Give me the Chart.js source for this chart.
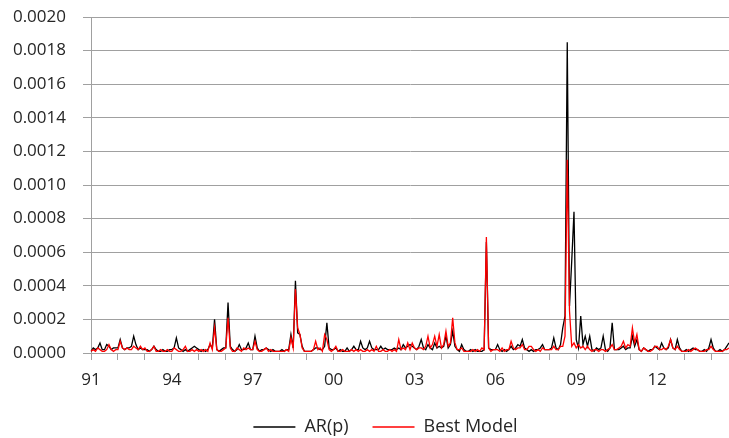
<!DOCTYPE html>
<html>
<head>
<meta charset="utf-8">
<script src="https://cdn.jsdelivr.net/npm/chart.js@4/dist/chart.umd.min.js"></script>
<style>
  html, body { margin: 0; padding: 0; background: #ffffff; }
  #wrap { width: 729px; height: 438px; }
</style>
</head>
<body>
<div id="wrap"><canvas id="chart" width="729" height="438"></canvas></div>
<script>
// Monthly series, January 1991 onwards (one row per year)
const startYear = 1991;
const yearTicks = ['91', '94', '97', '00', '03', '06', '09', '12'];

const arP = [
  0.00001,0.00003,0.00002,0.00003,0.00006,0.00002,0.00002,0.00005,0.00004,0.00002,0.00003,0.00003,
  0.00003,0.00008,0.00003,0.00002,0.00003,0.00003,0.00004,0.00010,0.00005,0.00002,0.00003,0.00002,
  0.00002,0.00002,0.00001,0.00002,0.00004,0.00002,0.00001,0.00001,0.00002,0.00001,0.00001,0.00002,
  0.00002,0.00003,0.00009,0.00003,0.00002,0.00001,0.00002,0.00001,0.00002,0.00003,0.00004,0.00003,
  0.00002,0.00001,0.00002,0.00001,0.00002,0.00005,0.00003,0.00020,0.00002,0.00001,0.00002,0.00003,
  0.00003,0.00030,0.00004,0.00002,0.00001,0.00002,0.00005,0.00002,0.00002,0.00003,0.00006,0.00002,
  0.00002,0.00010,0.00003,0.00001,0.00002,0.00002,0.00003,0.00002,0.00001,0.00002,0.00001,0.00001,
  0.00001,0.00002,0.00001,0.00002,0.00002,0.00011,0.00003,0.00043,0.00012,0.00011,0.00004,0.00001,
  0.00001,0.00001,0.00001,0.00002,0.00003,0.00003,0.00002,0.00002,0.00004,0.00018,0.00003,0.00002,
  0.00002,0.00003,0.00001,0.00002,0.00001,0.00001,0.00003,0.00001,0.00002,0.00004,0.00002,0.00002,
  0.00007,0.00003,0.00002,0.00003,0.00007,0.00003,0.00002,0.00002,0.00002,0.00004,0.00002,0.00003,
  0.00002,0.00002,0.00002,0.00003,0.00002,0.00003,0.00002,0.00005,0.00003,0.00004,0.00005,0.00004,
  0.00003,0.00002,0.00004,0.00008,0.00003,0.00002,0.00005,0.00003,0.00002,0.00006,0.00003,0.00004,
  0.00003,0.00004,0.00010,0.00003,0.00005,0.00013,0.00004,0.00002,0.00001,0.00005,0.00002,0.00001,
  0.00001,0.00002,0.00001,0.00002,0.00001,0.00001,0.00001,0.00002,0.00066,0.00003,0.00002,0.00002,
  0.00002,0.00005,0.00002,0.00001,0.00002,0.00001,0.00002,0.00004,0.00002,0.00003,0.00005,0.00004,
  0.00008,0.00003,0.00002,0.00001,0.00002,0.00001,0.00002,0.00002,0.00003,0.00005,0.00002,0.00002,
  0.00002,0.00003,0.00009,0.00003,0.00002,0.00005,0.00015,0.00022,0.00185,0.00028,0.00055,0.00084,
  0.00008,0.00003,0.00022,0.00005,0.00010,0.00004,0.00010,0.00002,0.00001,0.00003,0.00002,0.00003,
  0.00010,0.00002,0.00001,0.00003,0.00018,0.00002,0.00002,0.00002,0.00003,0.00004,0.00002,0.00003,
  0.00003,0.00010,0.00004,0.00008,0.00002,0.00001,0.00003,0.00002,0.00001,0.00002,0.00002,0.00004,
  0.00003,0.00002,0.00006,0.00003,0.00002,0.00003,0.00008,0.00003,0.00002,0.00008,0.00003,0.00001,
  0.00001,0.00002,0.00001,0.00002,0.00003,0.00002,0.00002,0.00001,0.00001,0.00002,0.00001,0.00003,
  0.00008,0.00003,0.00001,0.00001,0.00002,0.00001,0.00002,0.00004,0.00006
];

const bestModel = [
  0.00001,0.00002,0.00001,0.00003,0.00002,0.00001,0.00001,0.00002,0.00005,0.00002,0.00001,0.00002,
  0.00002,0.00007,0.00003,0.00002,0.00003,0.00002,0.00002,0.00004,0.00003,0.00002,0.00004,0.00002,
  0.00003,0.00001,0.00001,0.00002,0.00004,0.00001,0.00001,0.00002,0.00001,0.00001,0.00002,0.00001,
  0.00001,0.00003,0.00002,0.00001,0.00001,0.00002,0.00004,0.00001,0.00001,0.00002,0.00001,0.00002,
  0.00001,0.00002,0.00001,0.00002,0.00001,0.00006,0.00002,0.00015,0.00002,0.00001,0.00001,0.00002,
  0.00003,0.00021,0.00003,0.00001,0.00001,0.00003,0.00002,0.00001,0.00003,0.00002,0.00003,0.00002,
  0.00002,0.00007,0.00002,0.00001,0.00001,0.00002,0.00003,0.00001,0.00002,0.00001,0.00001,0.00001,
  0.00001,0.00001,0.00001,0.00002,0.00001,0.00009,0.00003,0.00038,0.00015,0.00011,0.00003,0.00001,
  0.00001,0.00001,0.00001,0.00002,0.00007,0.00002,0.00003,0.00001,0.00011,0.00008,0.00002,0.00001,
  0.00002,0.00004,0.00001,0.00001,0.00002,0.00001,0.00001,0.00001,0.00002,0.00001,0.00002,0.00001,
  0.00002,0.00001,0.00001,0.00002,0.00001,0.00002,0.00001,0.00004,0.00001,0.00001,0.00002,0.00001,
  0.00001,0.00002,0.00001,0.00002,0.00001,0.00008,0.00002,0.00003,0.00002,0.00006,0.00002,0.00006,
  0.00003,0.00002,0.00003,0.00003,0.00002,0.00004,0.00010,0.00003,0.00005,0.00010,0.00004,0.00011,
  0.00003,0.00005,0.00013,0.00004,0.00006,0.00021,0.00006,0.00002,0.00002,0.00003,0.00001,0.00001,
  0.00001,0.00001,0.00002,0.00001,0.00002,0.00001,0.00003,0.00002,0.00069,0.00003,0.00001,0.00002,
  0.00002,0.00002,0.00001,0.00003,0.00001,0.00002,0.00002,0.00007,0.00003,0.00002,0.00003,0.00003,
  0.00005,0.00002,0.00002,0.00004,0.00004,0.00002,0.00001,0.00002,0.00001,0.00003,0.00002,0.00002,
  0.00002,0.00002,0.00004,0.00002,0.00002,0.00004,0.00004,0.00010,0.00115,0.00025,0.00004,0.00006,
  0.00003,0.00005,0.00003,0.00004,0.00002,0.00004,0.00002,0.00001,0.00002,0.00002,0.00001,0.00002,
  0.00002,0.00001,0.00002,0.00003,0.00005,0.00002,0.00002,0.00003,0.00004,0.00007,0.00003,0.00005,
  0.00004,0.00015,0.00006,0.00011,0.00002,0.00001,0.00003,0.00002,0.00001,0.00001,0.00002,0.00004,
  0.00004,0.00002,0.00002,0.00003,0.00002,0.00004,0.00008,0.00003,0.00002,0.00004,0.00002,0.00001,
  0.00001,0.00001,0.00002,0.00001,0.00002,0.00003,0.00002,0.00001,0.00001,0.00001,0.00002,0.00002,
  0.00004,0.00002,0.00001,0.00001,0.00001,0.00001,0.00002,0.00002,0.00003
];

// Category labels: one per month
const months = [];
for (let i = 0; i < arP.length; i++) {
  const y = startYear + Math.floor(i / 12);
  months.push(y + '-' + String(i % 12 + 1).padStart(2, '0'));
}

const FONT = "'Open Sans', 'Liberation Sans', sans-serif";
const TEXT = '#262626';
const GRID = '#a0a0a0';

function isJanuary(i) { return i % 12 === 0; }

// Nudge the legend row so it sits under the plot rather than the canvas centre
const legendShift = {
  id: 'legendShift',
  afterLayout(chart) {
    const lg = chart.legend;
    if (!lg) return;
    lg.left += 21; lg.right += 21;
    lg.top += 8; lg.bottom += 8;
  }
};

new Chart(document.getElementById('chart'), {
  type: 'line',
  data: {
    labels: months,
    datasets: [
      { label: 'AR(p)', data: arP, borderColor: '#000000', backgroundColor: '#000000',
        borderWidth: 1.3, pointRadius: 0, tension: 0, order: 2 },
      { label: 'Best Model', data: bestModel, borderColor: '#ff0000', backgroundColor: '#ff0000',
        borderWidth: 1.3, pointRadius: 0, tension: 0, order: 1 }
    ]
  },
  plugins: [legendShift],
  options: {
    responsive: false,
    animation: false,
    layout: { padding: { left: 0, right: 0, top: 17, bottom: 0 } },
    plugins: {
      tooltip: { enabled: false },
      legend: {
        position: 'bottom',
        labels: {
          font: { family: FONT, size: 18 },
          color: TEXT,
          boxWidth: 42,
          boxHeight: 1.5,
          padding: 24,
          sort: (a, b) => a.datasetIndex - b.datasetIndex,
          generateLabels: (chart) => chart.data.datasets.map((ds, i) => ({
            text: ds.label,
            fillStyle: ds.borderColor,
            strokeStyle: ds.borderColor,
            lineWidth: 0,
            fontColor: TEXT,
            hidden: false,
            datasetIndex: i
          }))
        }
      }
    },
    scales: {
      x: {
        type: 'category',
        offset: false,
        border: { display: true, color: GRID, width: 1 },
        grid: {
          display: true,
          drawOnChartArea: false,
          drawTicks: true,
          tickLength: 7,
          tickColor: (ctx) => isJanuary(ctx.index) ? GRID : 'rgba(0,0,0,0)',
          color: 'rgba(0,0,0,0)'
        },
        ticks: {
          autoSkip: false,
          maxRotation: 0,
          minRotation: 0,
          padding: 10,
          font: { family: FONT, size: 17 },
          color: TEXT,
          callback: function (value, index) {
            if (!isJanuary(index)) return '';
            const yy = months[index].slice(2, 4);
            return yearTicks.includes(yy) && ((index / 12) % 3 === 0) ? yy : '';
          }
        },
        afterFit: (scale) => { scale.height = 33; scale.paddingLeft = 0; scale.paddingRight = 0; }
      },
      y: {
        min: 0,
        max: 0.002,
        border: { display: true, color: GRID, width: 1 },
        grid: { color: GRID, lineWidth: 1, drawTicks: true, tickLength: 8, tickColor: GRID },
        ticks: {
          stepSize: 0.0002,
          padding: 17,
          font: { family: FONT, size: 17 },
          color: TEXT,
          callback: (v) => Number(v).toFixed(4)
        },
        afterFit: (scale) => { scale.width = 91; scale.paddingTop = 0; scale.paddingBottom = 0; }
      }
    }
  }
});
</script>
</body>
</html>
